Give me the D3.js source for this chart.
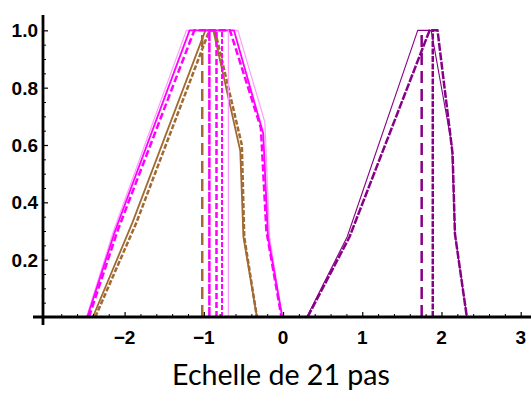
<!DOCTYPE html>
<html>
<head>
<meta charset="utf-8">
<script src="https://cdn.jsdelivr.net/npm/d3@7"></script>
<style>
  html, body { margin: 0; padding: 0; background: #fff; }
  svg { display: block; }
</style>
</head>
<body>
<svg id="chart" width="531" height="401"></svg>
<script>
// ---------- data ----------
const xTickValues = [-2, -1, 0, 1, 2, 3];
const yTickValues = [0.2, 0.4, 0.6, 0.8, 1.0];
const titleText = "Echelle de 21 pas";

// membership curves (x, y)
const magentaLightX = [-2.48, -2.14, -1.22, -0.57, -0.23, -0.17, -0.01];
const magentaLightY = [0, 0.30, 1, 1, 0.68, 0.28, 0];
const magentaSolidX = [-2.47, -2.12, -1.18, -0.62, -0.25, -0.19, -0.01];
const magentaSolidY = [0, 0.30, 1, 1, 0.64, 0.28, 0];
const magentaDashX  = [-2.45, -2.09, -1.12, -0.67, -0.28, -0.21, -0.02];
const magentaDashY  = [0, 0.30, 1, 1, 0.66, 0.30, 0];

const brownSolidX = [-2.40, -1.90, -0.98, -0.88, -0.54, -0.50, -0.33];
const brownSolidY = [0, 0.33, 1, 1, 0.58, 0.28, 0];
const brownDashX  = [-2.37, -1.85, -0.93, -0.86, -0.52, -0.49, -0.33];
const brownDashY  = [0, 0.33, 1, 1, 0.60, 0.28, 0];

const purpleThinX = [0.30, 0.81, 1.70, 1.87, 2.13, 2.17, 2.32];
const purpleThinY = [0, 0.28, 1, 1, 0.60, 0.29, 0];
const purpleDashX = [0.31, 0.84, 1.85, 1.95, 2.14, 2.17, 2.32];
const purpleDashY = [0, 0.28, 1, 1, 0.57, 0.29, 0];

// vertical mean lines (x positions)
const brownMeans   = [-1.02];
const magentaMeans = [-0.93, -0.84, -0.77, -0.69];
const purpleMeans  = [1.75, 1.89];

// ---------- drawing ----------
const svg = d3.select("#chart");
const x = d3.scaleLinear().domain([-3.03, 3.13]).range([43, 531]);
const y = d3.scaleLinear().domain([0, 1.05]).range([317, 16]);

const MAG = "#ff00ff", MAG_LIGHT = "#ff9cff", BROWN = "#a06a32", PURPLE = "#870087";

const line = d3.line().x(d => x(d[0])).y(d => y(d[1]));
const zip = (xs, ys) => xs.map((v, i) => [v, ys[i]]);

const plot = svg.append("g");

function curve(xs, ys, color, width, dash) {
  plot.append("path")
    .attr("d", line(zip(xs, ys)))
    .attr("fill", "none")
    .attr("stroke", color)
    .attr("stroke-width", width)
    .attr("stroke-linejoin", "round")
    .attr("stroke-dasharray", dash || null);
}
function vline(v, color, width, dash) {
  plot.append("line")
    .attr("x1", x(v)).attr("x2", x(v))
    .attr("y1", y(0)).attr("y2", y(1))
    .attr("stroke", color)
    .attr("stroke-width", width)
    .attr("stroke-dasharray", dash || null);
}

curve(magentaLightX, magentaLightY, MAG_LIGHT, 1.2);
curve(brownSolidX, brownSolidY, BROWN, 1.8);
curve(brownDashX, brownDashY, BROWN, 2.5, "5,2");
curve(magentaSolidX, magentaSolidY, MAG, 1.8);
curve(magentaDashX, magentaDashY, MAG, 2.5, "7,3");
curve(purpleThinX, purpleThinY, PURPLE, 1.1);
curve(purpleDashX, purpleDashY, PURPLE, 2.5, "8,1.5");

vline(brownMeans[0], BROWN, 2.5, "12,6");
vline(magentaMeans[0], MAG, 2.5, "10,1.5");
vline(magentaMeans[1], MAG, 2.5, "6,3");
vline(magentaMeans[2], MAG, 2, "5,2");
vline(magentaMeans[3], MAG_LIGHT, 1.2);
vline(purpleMeans[0], PURPLE, 2.5, "12,6");
vline(purpleMeans[1], PURPLE, 2.5, "6,1.5");

// ---------- axes ----------
const axes = svg.append("g");
const font = "'Liberation Sans', Arial, sans-serif";

// x axis
const xMinor = d3.range(-3.0, 3.13, 0.2).filter(v => Math.abs(v - Math.round(v)) > 1e-6);
axes.append("g").attr("transform", `translate(0,${y(0)})`)
  .call(d3.axisTop(x).tickValues(xMinor).tickSize(3).tickFormat(""))
  .call(g => g.select(".domain").remove())
  .call(g => g.selectAll("line").attr("stroke", "#000").attr("stroke-width", 1));
axes.append("g").attr("transform", `translate(0,${y(0)})`)
  .call(d3.axisTop(x).tickValues(xTickValues).tickSize(5).tickFormat(""))
  .call(g => g.select(".domain").remove())
  .call(g => g.selectAll("line").attr("stroke", "#000").attr("stroke-width", 1.2));
axes.append("line")
  .attr("x1", 33).attr("x2", 531).attr("y1", y(0)).attr("y2", y(0))
  .attr("stroke", "#000").attr("stroke-width", 2.8);

axes.selectAll("text.xlab").data(xTickValues).join("text")
  .attr("class", "xlab")
  .attr("x", d => x(d))
  .attr("y", 344)
  .attr("text-anchor", "middle")
  .attr("font-family", font)
  .attr("font-weight", "bold")
  .attr("font-size", 19)
  .text(d => d3.format("")(d).replace("-", "\u2212"));

// y axis
const yMinor = d3.range(0.05, 1.05, 0.05).filter(v => Math.abs(v * 5 - Math.round(v * 5)) > 1e-6);
axes.append("g").attr("transform", `translate(${x(-3.03)},0)`)
  .call(d3.axisRight(y).tickValues(yMinor).tickSize(3).tickFormat(""))
  .call(g => g.select(".domain").remove())
  .call(g => g.selectAll("line").attr("stroke", "#000").attr("stroke-width", 1));
axes.append("g").attr("transform", `translate(${x(-3.03)},0)`)
  .call(d3.axisRight(y).tickValues(yTickValues).tickSize(5).tickFormat(""))
  .call(g => g.select(".domain").remove())
  .call(g => g.selectAll("line").attr("stroke", "#000").attr("stroke-width", 1.2));
axes.append("line")
  .attr("x1", x(-3.03)).attr("x2", x(-3.03)).attr("y1", 15).attr("y2", 325)
  .attr("stroke", "#000").attr("stroke-width", 2.8);

axes.selectAll("text.ylab").data(yTickValues).join("text")
  .attr("class", "ylab")
  .attr("x", 38)
  .attr("y", d => y(d))
  .attr("dy", "0.36em")
  .attr("text-anchor", "end")
  .attr("font-family", font)
  .attr("font-weight", "bold")
  .attr("font-size", 19)
  .text(d => d3.format(".1f")(d));

// title
const title = svg.append("text")
  .attr("x", 281)
  .attr("y", 385)
  .attr("text-anchor", "middle")
  .attr("font-family", "Lato, 'Open Sans', sans-serif")
  .attr("font-size", 28)
  .attr("fill", "#000")
  .text(titleText);
const w = title.node().getComputedTextLength();
if (w > 0) title.attr("font-size", 28 * 218 / w);
</script>
</body>
</html>
